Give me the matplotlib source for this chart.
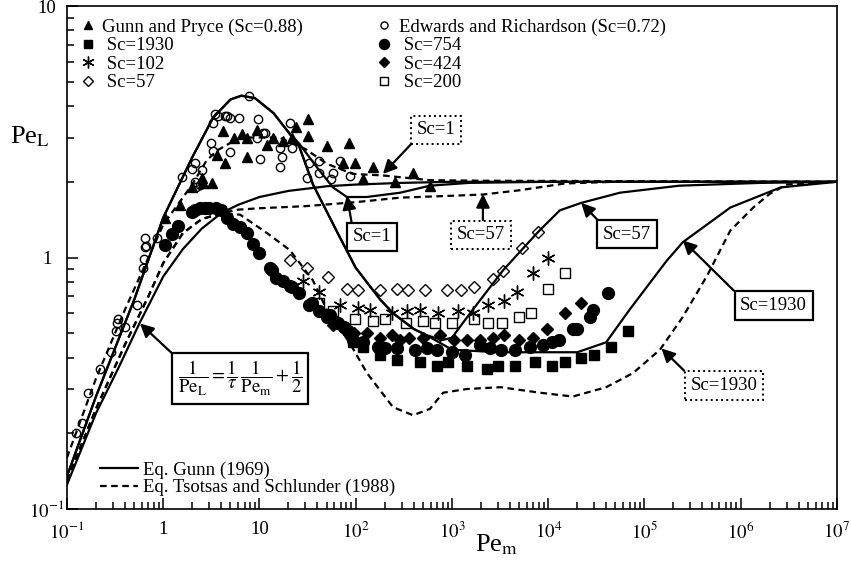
import numpy as np
import matplotlib.pyplot as plt
from matplotlib.lines import Line2D

plt.rcParams['font.family'] = ['Liberation Serif', 'DejaVu Serif']
plt.rcParams['mathtext.fontset'] = 'stix'
plt.rcParams['font.size'] = 13.5

# ---- model curves ----
gunn_sc1_x = [0.1, 0.2, 0.5, 1, 2, 3.3, 5, 6.5, 9, 14, 20, 26, 40, 58, 81, 130, 290, 590, 1500, 1e4, 1e7]
gunn_sc1_y = [0.135, 0.28, 0.68, 1.44, 2.5, 3.6, 4.25, 4.4, 4.3, 3.75, 3.15, 2.83, 2.27, 1.9, 1.74, 1.74, 1.81, 1.93, 1.98, 2.0, 2.0]

gunn_sc57_x = [0.1, 0.2, 0.5, 1, 2, 3.3, 5, 6.5, 9, 14, 20, 26, 36, 65, 100, 180, 245, 400, 550, 800, 1000,
               1540, 3400, 7800, 13200, 22200, 55600, 2.3e5, 1.6e6, 1e7]
gunn_sc57_y = [0.135, 0.28, 0.68, 1.44, 2.5, 3.6, 4.25, 4.4, 4.3, 3.75, 3.15, 2.75, 1.95, 1.25, 0.91, 0.68, 0.60, 0.52, 0.49, 0.47, 0.48,
               0.60, 0.89, 1.26, 1.54, 1.65, 1.81, 1.93, 1.98, 2.0]

gunn_sc1930_x = [20, 26, 36, 65, 100, 180, 245, 400, 550, 1000, 3000, 2e4, 4e4, 7e4, 1.7e5, 2.5e5, 7.8e5, 2.6e6, 1e7]
gunn_sc1930_y = [3.15, 2.75, 1.95, 1.25, 0.91, 0.68, 0.60, 0.52, 0.49, 0.43, 0.42, 0.42, 0.46, 0.62, 0.97, 1.15, 1.58, 1.9, 2.0]

limit_x = [0.1, 0.2, 0.35, 0.57, 1, 1.6, 2.5, 4, 6, 10, 20, 50, 100, 300, 1000, 1e7]
limit_y = [0.125, 0.24, 0.37, 0.55, 0.84, 1.08, 1.3, 1.5, 1.62, 1.74, 1.84, 1.92, 1.95, 1.98, 2.0, 2.0]

ts_sc1_x = [0.1, 0.2, 0.4, 0.62, 1, 2, 2.8, 3.6, 5.8, 8, 16, 30, 50, 93, 190, 590, 2000, 1e7]
ts_sc1_y = [0.16, 0.33, 0.62, 0.9, 1.35, 1.95, 2.42, 2.66, 2.95, 3.0, 3.0, 2.7, 2.36, 2.15, 2.12, 2.03, 2.02, 2.0]

ts_sc57_x = [0.1, 0.2, 0.4, 0.7, 1, 1.6, 2.5, 4, 6, 10, 30, 100, 290, 1000, 2100, 5000, 1.5e4, 5e4, 1e7]
ts_sc57_y = [0.13, 0.25, 0.45, 0.7, 0.95, 1.25, 1.42, 1.5, 1.55, 1.57, 1.6, 1.66, 1.73, 1.76, 1.78, 1.85, 1.97, 2.0, 2.0]

ts_sc1930_x = [0.1, 0.2, 0.4, 0.7, 1, 1.6, 2.5, 4, 6.3, 12, 20.7, 36, 50, 87, 131, 244, 394, 590, 810, 1430, 3200,
               8200, 18000, 40000, 76000, 1.45e5, 2.5e5, 4.5e5, 7.8e5, 1.35e6, 2e6, 3e6, 1e7]
ts_sc1930_y = [0.13, 0.25, 0.45, 0.7, 0.95, 1.25, 1.42, 1.5, 1.48, 1.25, 1.07, 0.81, 0.62, 0.456, 0.347, 0.254, 0.236, 0.25, 0.29, 0.30, 0.305,
               0.29, 0.28, 0.305, 0.347, 0.43, 0.58, 0.85, 1.28, 1.58, 1.79, 1.95, 2.0]

gp_x = [1.05, 1.5, 1.98, 2.5, 2.6, 3.2, 3.6, 4.2, 4.4, 5.5, 6.6, 7.4, 7.4, 9.4, 11.9, 13.8, 17.5, 21.6, 24, 31.6, 31.6,
        50, 74, 85, 98, 120, 150, 256, 390, 590]
gp_y = [1.44, 1.61, 1.9, 2.07, 1.98, 1.98, 2.55, 3.17, 2.37, 2.98, 3.1, 2.98, 2.5, 3.2, 2.8, 2.98, 2.91, 2.98, 3.3, 3.55, 3.04,
        2.78, 2.37, 2.85, 2.37, 2.05, 2.28, 2.0, 2.16, 1.93]

er_x = [0.124, 0.143, 0.165, 0.22, 0.29, 0.32, 0.33, 0.34, 0.40, 0.53, 0.62, 0.63, 0.64, 0.64, 0.67, 0.86, 1.57, 2.0,
        2.14, 2.14, 2.2, 2.4, 2.5, 3.1, 3.3, 3.3, 3.45, 3.7, 4.4, 4.6, 4.9, 5.0, 6.2, 7.8, 9.4, 9.7, 10.1, 10.8, 11.4,
        16.3, 16.3, 17, 20.8, 22, 31, 33, 42, 42, 56, 58, 69, 87]
er_y = [0.20, 0.22, 0.29, 0.36, 0.42, 0.51, 0.55, 0.57, 0.53, 0.645, 0.91, 0.99, 1.1, 1.2, 1.11, 1.2, 2.09, 2.25,
        2.38, 2.0, 1.9, 1.95, 2.22, 2.85, 2.66, 3.43, 3.73, 3.66, 3.66, 3.66, 2.63, 3.6, 3.6, 4.4, 2.98, 3.55, 2.47, 3.12, 3.13,
        2.73, 2.28, 2.52, 3.43, 2.73, 2.07, 2.37, 2.42, 2.17, 2.05, 2.17, 2.42, 2.1]

sc754_x = [1.05, 1.23, 1.43, 2.0, 2.15, 2.4, 2.7, 3.0, 3.5, 4.0, 4.6, 5.3, 6.3, 7.4, 8.5, 10, 12.8, 13.5, 15, 17.6, 20.6,
           22, 26, 33, 35, 42, 50, 54, 65, 75, 83, 94, 120, 170, 200, 270, 410, 550, 700, 1000, 1360, 1950, 2500,
           3200, 4500, 6400, 8900, 11000, 13000, 18000, 20000, 27000, 29000, 42000]
sc754_y = [1.12, 1.24, 1.33, 1.51, 1.54, 1.57, 1.58, 1.58, 1.57, 1.55, 1.44, 1.36, 1.32, 1.25, 1.13, 1.04, 0.91, 0.89, 0.83, 0.81, 0.77,
           0.76, 0.72, 0.65, 0.66, 0.61, 0.58, 0.59, 0.55, 0.53, 0.51, 0.47, 0.46, 0.44, 0.435, 0.435, 0.43, 0.435, 0.43, 0.42, 0.41, 0.45, 0.435,
           0.43, 0.43, 0.44, 0.45, 0.46, 0.47, 0.52, 0.52, 0.58, 0.62, 0.72]

sc1930_x = [94, 120, 180, 270, 460, 700, 900, 1450, 2300, 3000, 4500, 7300, 11000, 15000, 22000, 30000, 45000, 68000]
sc1930_y = [0.46, 0.44, 0.41, 0.39, 0.385, 0.37, 0.385, 0.37, 0.36, 0.37, 0.37, 0.385, 0.37, 0.385, 0.40, 0.41, 0.44, 0.51]

sc424_x = [58, 75, 95, 130, 180, 240, 290, 360, 500, 750, 1060, 1450, 1950, 2650, 3500, 5000, 6900, 9600, 15000, 22000]
sc424_y = [0.54, 0.52, 0.5, 0.50, 0.48, 0.49, 0.47, 0.48, 0.48, 0.49, 0.47, 0.47, 0.47, 0.48, 0.49, 0.47, 0.48, 0.52, 0.60, 0.66]

sc102_x = [28, 42, 68, 105, 140, 240, 340, 470, 720, 1150, 1650, 2350, 3500, 4700, 6900, 10000]
sc102_y = [0.81, 0.73, 0.65, 0.63, 0.62, 0.60, 0.61, 0.62, 0.60, 0.61, 0.60, 0.65, 0.67, 0.73, 0.87, 1.0]

sc200_x = [42, 58, 98, 150, 200, 330, 500, 660, 1000, 1700, 2350, 3300, 5000, 6700, 9900, 15000]
sc200_y = [0.66, 0.61, 0.57, 0.56, 0.57, 0.55, 0.56, 0.55, 0.55, 0.57, 0.55, 0.55, 0.58, 0.60, 0.75, 0.87]

sc57_x = [20.6, 31, 51, 81, 105, 180, 270, 350, 530, 880, 1230, 1700, 2700, 3400, 5300, 7800]
sc57_y = [0.98, 0.91, 0.84, 0.75, 0.74, 0.74, 0.75, 0.74, 0.74, 0.74, 0.74, 0.76, 0.82, 0.88, 1.09, 1.26]

xtick_vals = [1e-1, 1, 10, 1e2, 1e3, 1e4, 1e5, 1e6, 1e7]
xtick_labels = ['$10^{-1}$', '1', '10', '$10^{2}$', '$10^{3}$', '$10^{4}$', '$10^{5}$', '$10^{6}$', '$10^{7}$']
ytick_vals = [1e-1, 1, 10]
ytick_labels = ['$10^{-1}$', '1', '10']

fig = plt.figure(figsize=(8.51, 5.67), dpi=100)
ax = fig.add_axes([0.0787, 0.1023, 0.9048, 0.8871])
ax.set_xscale('log')
ax.set_yscale('log')

lw = 1.6
dash = (0, (3, 2))
ax.plot(gunn_sc1_x, gunn_sc1_y, 'k-', lw=lw)
ax.plot(gunn_sc57_x, gunn_sc57_y, 'k-', lw=lw)
ax.plot(gunn_sc1930_x, gunn_sc1930_y, 'k-', lw=lw)
ax.plot(limit_x, limit_y, 'k-', lw=lw)
ax.plot(ts_sc1_x, ts_sc1_y, 'k', ls=dash, lw=lw)
ax.plot(ts_sc57_x, ts_sc57_y, 'k', ls=dash, lw=lw)
ax.plot(ts_sc1930_x, ts_sc1930_y, 'k', ls=dash, lw=lw)

mk = dict(ls='none', color='k')
h_gp, = ax.plot(gp_x, gp_y, marker='^', ms=7, **mk)
h_1930, = ax.plot(sc1930_x, sc1930_y, marker='s', ms=7, **mk)
h_102, = ax.plot(sc102_x, sc102_y, marker=(6, 2, 0), ms=10, mew=1.0, **mk)
h_57, = ax.plot(sc57_x, sc57_y, marker='D', ms=6.5, mfc='none', mew=1.0, **mk)
h_er, = ax.plot(er_x, er_y, marker='o', ms=6, mfc='none', mew=1.0, **mk)
h_754, = ax.plot(sc754_x, sc754_y, marker='o', ms=8.5, **mk)
h_424, = ax.plot(sc424_x, sc424_y, marker='D', ms=6, **mk)
h_200, = ax.plot(sc200_x, sc200_y, marker='s', ms=7, mfc='none', mew=1.0, **mk)

ax.set_xlim(0.1, 1e7)
ax.set_ylim(0.1, 10)
ax.set_xticks(xtick_vals)
ax.set_xticklabels(xtick_labels)
ax.set_yticks(ytick_vals)
ax.set_yticklabels(ytick_labels)
ax.tick_params(which='major', direction='in', length=8, width=1.1, labelsize=13.5)
ax.tick_params(which='minor', direction='in', length=5, width=1.1)
ax.tick_params(axis='x', which='major', pad=9)
ax.tick_params(axis='y', which='major', pad=14.4)
for t in ax.get_yticklabels():
    t.set_horizontalalignment('center')
for s in ax.spines.values():
    s.set_linewidth(1.2)

ax.set_xlabel(r'Pe$_{\mathrm{m}}$', fontsize=19, va='center')
ax.xaxis.set_label_coords(0.558, -0.07)
ax.set_ylabel(r'Pe$_{\mathrm{L}}$', fontsize=19, rotation=0, va='center')
ax.yaxis.set_label_coords(-0.048, 0.74)

# symbol legend (two columns)
leg1 = ax.legend([h_gp, h_1930, h_102, h_57, h_er, h_754, h_424, h_200],
                 ['Gunn and Pryce (Sc=0.88)', ' Sc=1930', ' Sc=102', ' Sc=57',
                  'Edwards and Richardson (Sc=0.72)', ' Sc=754', ' Sc=424', ' Sc=200'],
                 ncol=2, loc='upper left', bbox_to_anchor=(0.0151, 0.975), frameon=False,
                 handlelength=1.0, handletextpad=0.25, columnspacing=3.85, labelspacing=0.07,
                 borderpad=0, borderaxespad=0, markerscale=0.85)
ax.add_artist(leg1)

line_handles = [Line2D([], [], color='k', lw=lw),
                Line2D([], [], color='k', lw=lw, ls=dash)]
ax.legend(line_handles, ['Eq. Gunn (1969)', 'Eq. Tsotsas and Schlunder (1988)'],
          loc='lower left', bbox_to_anchor=(0.043, 0.025), frameon=False,
          handlelength=2.0, handletextpad=0.27, labelspacing=0.0, borderpad=0, borderaxespad=0)

# annotation boxes
arrow = dict(arrowstyle='-|>,head_length=0.6,head_width=0.3', color='k', lw=1.6, shrinkA=0, shrinkB=0)
solid_box = dict(boxstyle='square,pad=0.3', fc='white', ec='k', lw=1.6)
dot_box = dict(boxstyle='square,pad=0.3', fc='white', ec='k', lw=1.4, ls=':')

def label(text, xy, xytext, box, relpos):
    ap = dict(arrow)
    ap['relpos'] = relpos
    ax.annotate(text, xy=xy, xytext=xytext, ha='center', va='center',
                bbox=box, arrowprops=ap, fontsize=13.5)

label('Sc=1', (192, 2.15), (683, 3.22), dot_box, (0, 0))
label('Sc=1', (81, 1.76), (147.6, 1.21), solid_box, (0, 1))
label('Sc=57', (2100, 1.79), (2000, 1.23), dot_box, (0.54, 1))
label('Sc=57', (22000, 1.65), (65800, 1.24), solid_box, (0, 1))
label('Sc=1930', (2.5e5, 1.17), (2.2e6, 0.645), solid_box, (0, 1))
label('Sc=1930', (1.5e5, 0.435), (6.7e5, 0.31), dot_box, (0, 1))
label(r'$\dfrac{1}{\mathrm{Pe_L}}=\dfrac{1}{\tau}\,\dfrac{1}{\mathrm{Pe_m}}+\dfrac{1}{2}$',
      (0.573, 0.547), (6.27, 0.331), solid_box, (0, 1))

plt.savefig('out.png', dpi=100)
